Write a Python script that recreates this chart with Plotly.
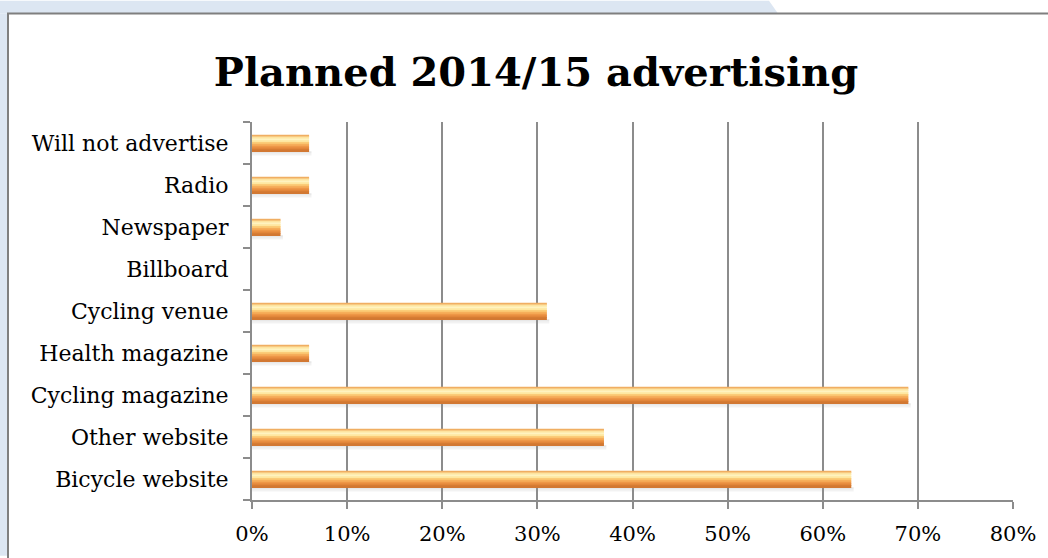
import plotly.graph_objects as go

# Survey categories, bottom to top as they appear on the axis
categories = [
    "Bicycle website",
    "Other website",
    "Cycling magazine",
    "Health magazine",
    "Cycling venue",
    "Billboard",
    "Newspaper",
    "Radio",
    "Will not advertise",
]
share_pct = [63, 37, 69, 6, 31, 0, 3, 6, 6]
x_ticks = [0, 10, 20, 30, 40, 50, 60, 70, 80]
x_tick_labels = [f"{v}%" for v in x_ticks]

W, H = 1048, 558
ML, MR, MT, MB = 252, 35, 122, 56
PW, PH = W - ML - MR, H - MT - MB

SERIF = "DejaVu Serif"

def px(x):
    return (x - ML) / PW

def py(y):
    return (H - MB - y) / PH

fig = go.Figure()

# Soft shadow under each bar
BAR_W = 0.39
shadow = [("rgba(150,150,150,0.22)", 0.05), ("rgba(150,150,150,0.12)", 0.05)]
pos = -BAR_W / 2
for col, w in shadow:
    pos -= w
    fig.add_trace(go.Bar(
        y=categories, x=[v + 0.25 if v > 0 else 0 for v in share_pct],
        orientation="h", width=w, offset=pos,
        marker=dict(color=col, line=dict(width=0)),
        hoverinfo="skip", showlegend=False,
    ))

# Shaded bars built from horizontal bands, top to bottom
bands = [
    "#f0ae62",
    "#fde4a0",
    "#fff3bf",
    "#fee7a0",
    "#fbcc78",
    "#f6ae5a",
    "#ee9747",
    "#e2863a",
    "#d27832",
]
n = len(bands)
bw = BAR_W / n
for i, col in enumerate(bands):
    top = BAR_W / 2 - i * bw
    fig.add_trace(go.Bar(
        y=categories, x=share_pct, orientation="h",
        width=bw * 1.02, offset=top - bw,
        marker=dict(color=col, line=dict(width=0)),
        hoverinfo="skip", showlegend=False,
    ))

shapes = [
    # light blue page strips around the chart frame
    dict(type="path", xref="paper", yref="paper", layer="below",
         path=f"M {px(0)},{py(0)} L {px(769)},{py(0)} L {px(778)},{py(13)} "
              f"L {px(0)},{py(13)} Z",
         fillcolor="#dce6f2", line=dict(width=0)),
    dict(type="rect", xref="paper", yref="paper", layer="below",
         x0=px(0), x1=px(8), y0=py(H), y1=py(13),
         fillcolor="#dce6f2", line=dict(width=0)),
    # chart frame
    dict(type="path", xref="paper", yref="paper", layer="below",
         path=f"M {px(8)},{py(H + 5)} L {px(8)},{py(13)} L {px(W + 5)},{py(13)}",
         line=dict(color="#7f7f7f", width=2)),
]

fig.update_layout(
    width=W, height=H,
    margin=dict(l=ML, r=MR, t=MT, b=MB),
    paper_bgcolor="white", plot_bgcolor="white",
    barmode="overlay",
    showlegend=False,
    title=dict(
        text="<b>Planned 2014/15 advertising</b>",
        font=dict(family=SERIF, size=40, color="#000000"),
        x=px(536), xref="paper", xanchor="center",
        y=1 - 72 / H, yanchor="middle",
    ),
    shapes=shapes,
    xaxis=dict(
        range=[0, 80], tickvals=x_ticks, ticktext=x_tick_labels,
        showgrid=True, gridcolor="#8c8c8c", gridwidth=1.5,
        showline=True, linecolor="#8c8c8c", linewidth=2,
        ticks="outside", ticklen=7, tickcolor="#8c8c8c", tickwidth=1.5,
        tickfont=dict(family=SERIF, size=21, color="#000000"),
        ticklabelstandoff=7, zeroline=False, fixedrange=True,
    ),
    yaxis=dict(
        type="category", categoryorder="array", categoryarray=categories,
        range=[-0.5, len(categories) - 0.5],
        showgrid=False, showline=True, linecolor="#8c8c8c", linewidth=2,
        ticks="outside", tickson="boundaries", ticklen=7,
        tickcolor="#8c8c8c", tickwidth=1.5,
        tickfont=dict(family=SERIF, size=22, color="#000000"),
        ticklabelstandoff=17, fixedrange=True,
    ),
)

fig.write_html("out.html")
